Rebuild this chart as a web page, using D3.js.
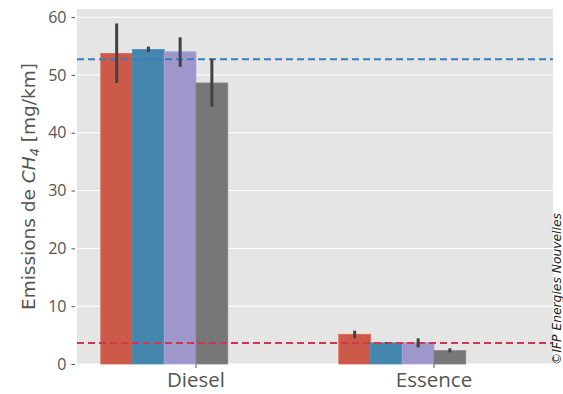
<!DOCTYPE html>
<html><head><meta charset="utf-8">
<script src="https://cdn.jsdelivr.net/npm/d3@7"></script>
<style>body{margin:0;background:#fff;} svg{display:block;font-family:"Open Sans",sans-serif;}</style>
</head><body><svg id="c" width="563" height="394"></svg>
<script>
const categories = ["Diesel", "Essence"];
const hueSlots = 6; // seaborn hue slots; only first four carry data
const seriesColors = ["#cc5a49", "#4586ac", "#9e97cc", "#777777"];
const means = [
  [53.7, 5.13],
  [54.4, 3.68],
  [54.0, 3.72],
  [48.6, 2.30]
];
const errLow = [
  [48.6, 4.44],
  [53.95, 3.58],
  [51.4, 2.88],
  [44.5, 2.02]
];
const errHigh = [
  [58.9, 5.76],
  [54.9, 3.80],
  [56.5, 4.44],
  [52.8, 2.71]
];
const refLines = [52.7, 3.65];
const refColors = ["#3a7cbf", "#d3364a"];
const yTicks = [0, 10, 20, 30, 40, 50, 60];

const svg = d3.select("#c");
const L = 77, R = 553, T = 9, B = 364;
const y = d3.scaleLinear().domain([0, 61.4]).range([B, T]);
const x0 = d3.scaleBand().domain(categories).range([L, R]).paddingInner(0.2).paddingOuter(0.1);
const x1 = d3.scaleBand().domain(d3.range(hueSlots)).range([0, x0.bandwidth()]);

svg.append("rect").attr("x", L).attr("y", T).attr("width", R - L).attr("height", B - T).attr("fill", "#e5e5e5");

svg.append("g").selectAll("line").data(yTicks).join("line")
  .attr("x1", L).attr("x2", R).attr("y1", d => y(d)).attr("y2", d => y(d))
  .attr("stroke", "#fff").attr("stroke-width", 1);

const yAxis = svg.append("g").attr("transform", `translate(${L - 2},0)`)
  .call(d3.axisLeft(y).tickValues(yTicks).tickSize(3.5).tickPadding(5));
yAxis.select(".domain").remove();
yAxis.selectAll("line").attr("stroke", "#555");
yAxis.selectAll("text").attr("fill", "#555").attr("font-size", 16).attr("font-family", "Open Sans");

const xAxis = svg.append("g").attr("transform", `translate(0,${B})`)
  .call(d3.axisBottom(x0).tickSize(4).tickPadding(4));
xAxis.select(".domain").remove();
xAxis.selectAll("line").attr("stroke", "#555");
xAxis.selectAll("text").attr("fill", "#555").attr("font-size", 20.5).attr("font-family", "Open Sans");

const groups = svg.append("g");
means.forEach((ser, si) => {
  groups.append("g").selectAll("rect").data(ser).join("rect")
    .attr("x", (d, ci) => x0(categories[ci]) + x1(si))
    .attr("width", x1.bandwidth())
    .attr("y", d => y(d))
    .attr("height", d => B - y(d))
    .attr("fill", seriesColors[si])
    .attr("stroke", d3.color(seriesColors[si]).brighter(0.25))
    .attr("stroke-width", 0.8);
});

refLines.forEach((v, i) => {
  svg.append("line").attr("x1", L).attr("x2", R).attr("y1", y(v)).attr("y2", y(v))
    .attr("stroke", refColors[i]).attr("stroke-width", 2).attr("stroke-dasharray", "7,4");
});

means.forEach((ser, si) => {
  svg.append("g").selectAll("line").data(ser).join("line")
    .attr("x1", (d, ci) => x0(categories[ci]) + x1(si) + x1.bandwidth() / 2)
    .attr("x2", (d, ci) => x0(categories[ci]) + x1(si) + x1.bandwidth() / 2)
    .attr("y1", (d, ci) => y(errLow[si][ci]))
    .attr("y2", (d, ci) => y(errHigh[si][ci]))
    .attr("stroke", "#424242").attr("stroke-width", 3);
});

const yl = svg.append("text").attr("transform", `translate(35,${(T + B) / 2}) rotate(-90)`)
  .attr("text-anchor", "middle").attr("fill", "#555").attr("font-size", 18.5).attr("font-family", "DejaVu Sans");
yl.append("tspan").text("Emissions de ");
yl.append("tspan").attr("font-style", "italic").text("CH");
yl.append("tspan").attr("font-style", "italic").attr("font-size", 13).attr("dy", 4).text("4");
yl.append("tspan").attr("dy", -4).text(" [mg/km]");

svg.append("text").attr("transform", `translate(561,289) rotate(-90)`)
  .attr("text-anchor", "middle").attr("font-size", 12.3).attr("font-style", "italic")
  .attr("font-family", "DejaVu Sans").attr("fill", "#222")
  .text("©IFP Energies Nouvelles");
</script></body></html>
